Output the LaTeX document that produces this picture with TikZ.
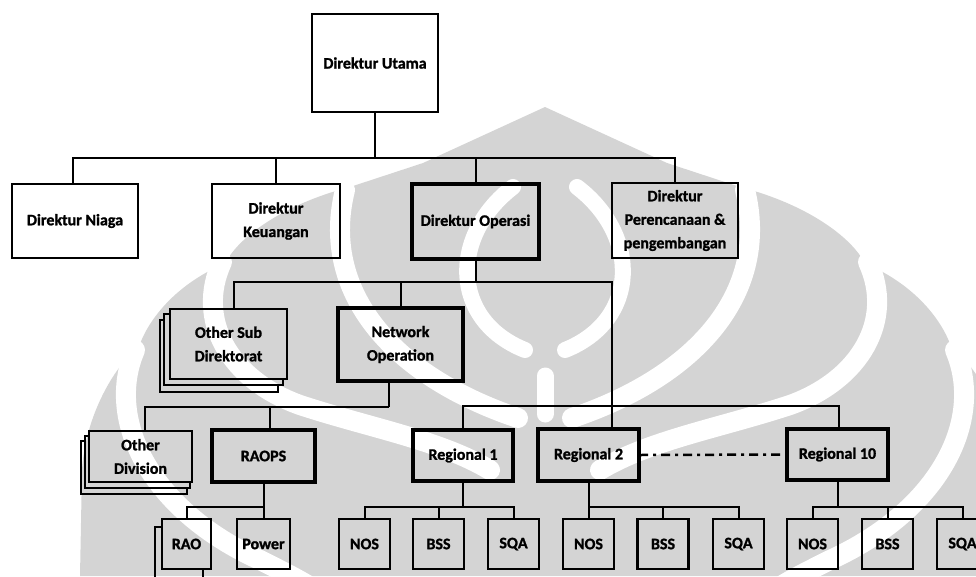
\documentclass[tikz,border=0pt]{standalone}
\usepackage{fontspec}
\setmainfont{Carlito}[BoldFeatures={FakeBold=1.3}]
\usetikzlibrary{calc}
\definecolor{wmgray}{RGB}{212,212,212}
\tikzset{
  orgbox/.style={draw=black, line width=2.2pt, rectangle, inner sep=0pt, outer sep=0pt,
                 align=center, font=\bfseries\fontsize{16}{23.5}\selectfont},
  keybox/.style={orgbox, line width=3.8pt},
  unitbox/.style={orgbox, line width=2.6pt, minimum width=51, minimum height=50},
  link/.style={draw=black, line width=2pt},
  stackline/.style={draw=black, line width=2pt},
  wmgap/.style={draw=white, line width=20pt, line cap=round},
}
\begin{document}
\begin{tikzpicture}[x=1pt,y=-1pt]
\useasboundingbox (0,0) rectangle (976,576);

% ---- background emblem (light grey) ----
\fill[wmgray] (545,107) -- (667,163) -- (740,187)
  .. controls (810,205) and (855,240) .. (866,266) -- (875,268)
  .. controls (920,290) and (945,325) .. (952,350) -- (960,355)
  .. controls (990,385) and (1000,420) .. (1000,470) -- (1000,576)
  -- (80,576) -- (82,470)
  .. controls (85,420) and (110,375) .. (130,355) -- (138,350)
  .. controls (145,325) and (170,290) .. (215,268) -- (224,266)
  .. controls (235,240) and (280,205) .. (350,187) -- (423,163) -- cycle;
% separating stripes
\draw[wmgap] (745,190) .. controls (770,290) and (700,375) .. (572,418);
\draw[wmgap] (345,190) .. controls (320,290) and (390,375) .. (518,418);
\draw[wmgap] (868,262) .. controls (895,320) and (860,380) .. (790,405)
  .. controls (720,428) and (650,440) .. (600,470);
\draw[wmgap] (222,262) .. controls (195,320) and (230,380) .. (300,405)
  .. controls (370,428) and (440,440) .. (490,470);
\draw[wmgap] (955,350) .. controls (985,420) and (940,510) .. (830,560)
  .. controls (800,575) and (780,585) .. (760,600);
\draw[wmgap] (135,350) .. controls (105,420) and (150,510) .. (260,560)
  .. controls (290,575) and (310,585) .. (330,600);
\draw[wmgap, line width=16pt] (577,187) .. controls (640,235) and (640,320) .. (565,350);
\draw[wmgap, line width=16pt] (513,187) .. controls (450,235) and (450,320) .. (525,350);
\draw[wmgap, line width=17pt] (545,376) -- (545,414);

% ---- boards of directors ----
\node[orgbox, minimum width=126, minimum height=98] (utama) at (375,63) {Direktur Utama};
\node[orgbox, minimum width=126, minimum height=74] (niaga) at (75,221) {Direktur Niaga};
\node[orgbox, minimum width=128, minimum height=74] (keuangan) at (276,221) {Direktur\\Keuangan};
\node[keybox, minimum width=127, minimum height=75] (operasi) at (475.5,221.5) {Direktur Operasi};
\node[orgbox, minimum width=126, minimum height=75] (perencanaan) at (675,220.5)
  {Direktur\\Perencanaan \&\\pengembangan};

% ---- sub-directorates ----
\node[orgbox, minimum width=117, minimum height=70] (othersub) at (228.5,344) {Other Sub\\Direktorat};
\node[keybox, minimum width=125, minimum height=73] (netop) at (400.5,344.5) {Network\\Operation};

% ---- divisions and regions ----
\node[orgbox, minimum width=103, minimum height=51] (otherdiv) at (140.5,456.5) {Other\\Division};
\node[keybox, minimum width=103, minimum height=52] (raops) at (263.5,456) {RAOPS};
\node[keybox, minimum width=100, minimum height=51] (reg1) at (463,455.5) {Regional 1};
\node[keybox, minimum width=101, minimum height=52] (reg2) at (588.5,455) {Regional 2};
\node[keybox, minimum width=101, minimum height=51] (reg10) at (837.5,454.5) {Regional 10};

% ---- units ----
\node[unitbox, minimum width=49] (rao) at (186.5,544) {RAO};
\node[unitbox, minimum width=53] (power) at (263.5,544) {Power};
\node[unitbox] (nosa) at (364.5,544) {NOS};
\node[unitbox] (bssa) at (438.5,544) {BSS};
\node[unitbox] (sqaa) at (513.5,544) {SQA};
\node[unitbox] (nosb) at (588.5,544) {NOS};
\node[unitbox] (bssb) at (663,544) {BSS};
\node[unitbox] (sqab) at (738.5,544) {SQA};
\node[unitbox] (nosc) at (812.5,544) {NOS};
\node[unitbox] (bssc) at (887.5,544) {BSS};
\node[unitbox] (sqac) at (962.5,544) {SQA};

% ---- stacked copies behind the "other" boxes ----
\draw[stackline] ($(othersub.north west)+(0,5)$) -- ++(-6,0) |- ($(othersub.south east)+(-4,6)$) -- ++(0,-6);
\draw[stackline] ($(othersub.north west)+(-6,11)$) -- ++(-4,0) |- ($(othersub.south east)+(-9,13)$) -- ++(0,-7);
\draw[stackline] ($(otherdiv.north west)+(0,5)$) -- ++(-4,0) |- ($(otherdiv.south east)+(-2,6)$) -- ++(0,-6);
\draw[stackline] ($(otherdiv.north west)+(-4,10)$) -- ++(-4,0) |- ($(otherdiv.south east)+(-5,12)$) -- ++(0,-6);
\draw[stackline] ($(rao.north west)+(0,8)$) -- ++(-7,0) -- ++(0,60);
\draw[stackline] ($(rao.south east)+(-8,0)$) -- ++(0,12);

% ---- bus levels ----
\coordinate (bus0) at (0,158);
\coordinate (bus1) at (0,282);
\coordinate (bus2) at (0,407);
\coordinate (bus3) at (0,406);
\coordinate (bus4) at (0,507);
\coordinate (r2top) at ([xshift=23.5]reg2.north);
\coordinate (nbot) at ([xshift=-11.5]netop.south);

% directors
\draw[link] (utama.south) -- (utama.south |- bus0);
\draw[link] ([xshift=-2]niaga.north) |- (perencanaan.north |- bus0) -- (perencanaan.north);
\draw[link] (keuangan.north) -- (keuangan.north |- bus0);
\draw[link] (operasi.north) -- (operasi.north |- bus0);

% operations
\draw[link] (operasi.south) -- (operasi.south |- bus1);
\draw[link] ([xshift=5.5]othersub.north) |- (r2top |- bus1) -- (r2top);
\draw[link] (netop.north) -- (netop.north |- bus1);

% network operation
\draw[link] (nbot) -- (nbot |- bus2);
\draw[link] ([xshift=4.5]otherdiv.north) |- (nbot |- bus2);
\draw[link] ([xshift=6.5]raops.north) -- ([xshift=6.5]raops.north |- bus2);
\draw[link] (reg1.north) |- ([xshift=1.5]reg10.north |- bus3) -- ([xshift=1.5]reg10.north);

% regional chain
\draw[line width=2.5pt, dash pattern=on 9pt off 5pt on 3pt off 5pt] (reg2.east) -- (reg10.west);

% units
\draw[link] (raops.south) -- (raops.south |- bus4);
\draw[link] (rao.north) |- (power.north |- bus4) -- (power.north);
\draw[link] (reg1.south) -- (reg1.south |- bus4);
\draw[link] (nosa.north) |- (sqaa.north |- bus4) -- (sqaa.north);
\draw[link] (bssa.north) -- (bssa.north |- bus4);
\draw[link] (reg2.south) -- (reg2.south |- bus4);
\draw[link] (nosb.north) |- (sqab.north |- bus4) -- (sqab.north);
\draw[link] (bssb.north) -- (bssb.north |- bus4);
\draw[link] (reg10.south) -- (reg10.south |- bus4);
\draw[link] (nosc.north) |- (sqac.north |- bus4) -- (sqac.north);
\draw[link] (bssc.north) -- (bssc.north |- bus4);
\end{tikzpicture}
\end{document}
